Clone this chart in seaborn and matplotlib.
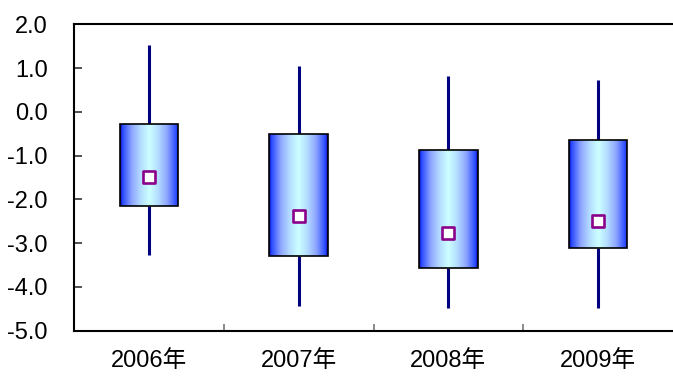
import matplotlib
matplotlib.use("Agg")
import matplotlib.pyplot as plt
import seaborn as sns
import numpy as np
import pandas as pd
from matplotlib.colors import LinearSegmentedColormap
from matplotlib.ticker import FormatStrFormatter, FixedLocator


#---------- Data ----------
years = ["2006年", "2007年", "2008年", "2009年"]
whisker_low = [-3.27, -4.45, -4.48, -4.48]
box_low = [-2.15, -3.29, -3.58, -3.12]
box_high = [-0.28, -0.51, -0.87, -0.64]
whisker_high = [1.52, 1.05, 0.82, 0.73]
means = [-1.49, -2.39, -2.77, -2.49]


#---------- Style ----------
sns.set_theme(style="white")
plt.rcParams["font.family"] = ["Liberation Sans", "Noto Sans CJK SC"]
plt.rcParams["axes.unicode_minus"] = False

rows = []
for i, y in enumerate(years):
    for v in [whisker_low[i], box_low[i], means[i], box_high[i], whisker_high[i]]:
        rows.append({"year": y, "value": v})
df = pd.DataFrame(rows)

fig = plt.figure(figsize=(6.73, 3.76), dpi=100)
ax = fig.add_axes([0.11, 0.121, 0.89, 0.814])

sns.boxplot(
    x="year", y="value", data=df, order=years,
    width=0.39, whis=(0, 100), showfliers=False,
    color="#6080ff", linecolor="black", linewidth=1.2,
    whiskerprops={"color": "#000080", "linewidth": 2.2},
    capprops={"visible": False},
    medianprops={"visible": False},
    ax=ax,
)

# gradient fill clipped to each box
grad = LinearSegmentedColormap.from_list(
    "boxgrad",
    [(0.0, "#0000a8"), (0.04, "#2848ff"), (0.2, "#8ea6ff"), (0.35, "#b4dcff"),
     (0.5, "#ccffff"), (0.65, "#b4dcff"), (0.8, "#8ea6ff"), (0.96, "#2848ff"),
     (1.0, "#0000a0")],
)
img = np.linspace(0, 1, 256).reshape(1, -1)
for p in list(ax.patches):
    bb = p.get_path().get_extents()
    im = ax.imshow(img, cmap=grad, aspect="auto",
                   extent=(bb.x0, bb.x1, bb.y0, bb.y1),
                   zorder=p.get_zorder() + 0.1, interpolation="bilinear")
    im.set_clip_path(p)
    p.set_facecolor("none")
    p.set_zorder(p.get_zorder() + 0.2)

sns.scatterplot(x=years, y=means, marker="s", s=75, color="white",
                edgecolor="#8b008b", linewidth=1.9, zorder=5, ax=ax)

ax.set_xlim(-0.5, 3.5)
ax.set_ylim(-5, 2)
ax.yaxis.set_major_locator(FixedLocator(np.arange(-5, 2.1, 1)))
ax.yaxis.set_major_formatter(FormatStrFormatter("%.1f"))
ax.set_xlabel("")
ax.set_ylabel("")

for s in ["top", "left", "bottom"]:
    ax.spines[s].set_visible(True)
    ax.spines[s].set_color("black")
    ax.spines[s].set_linewidth(1.5)
ax.spines["right"].set_visible(False)

ax.tick_params(axis="y", direction="in", length=6, width=1.2, color="#333333",
               labelsize=17, pad=19, left=True, labelcolor="black")
ax.tick_params(axis="x", which="major", length=0, labelsize=17, pad=14,
               labelcolor="black")
ax.set_xticks([0.5, 1.5, 2.5], minor=True)
ax.tick_params(axis="x", which="minor", direction="in", length=5, width=1.2,
               color="#777777", bottom=True)

plt.savefig("out.png", dpi=100)
